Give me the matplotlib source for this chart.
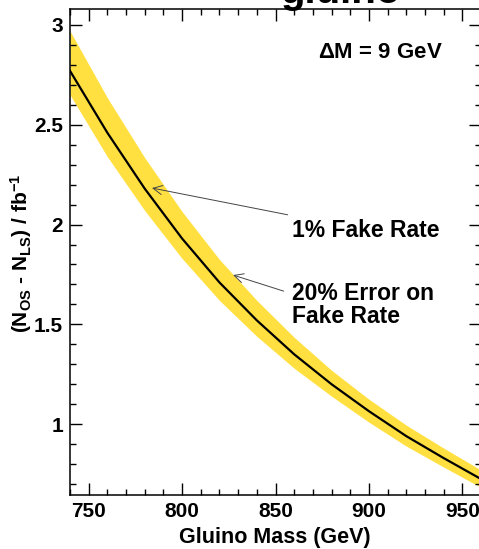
import numpy as np
import matplotlib
matplotlib.use('Agg')
import matplotlib.pyplot as plt
from matplotlib.ticker import FixedLocator, MultipleLocator

plt.rcParams['font.family'] = ['Liberation Sans', 'DejaVu Sans']
plt.rcParams['font.weight'] = 'bold'
plt.rcParams['mathtext.fontset'] = 'custom'
plt.rcParams['mathtext.rm'] = 'Liberation Sans:bold'
plt.rcParams['mathtext.bf'] = 'Liberation Sans:bold'
plt.rcParams['mathtext.it'] = 'Liberation Sans:bold'
plt.rcParams['mathtext.default'] = 'bf'

# gluino mass (GeV) og (N_OS - N_LS) / fb^-1
mass = [740, 760, 780, 800, 820, 840, 860, 880, 900, 920, 940, 960]
n_diff = [2.77, 2.46, 2.18, 1.93, 1.71, 1.52, 1.35, 1.20, 1.065, 0.94, 0.83, 0.725]
band_hi = [2.97, 2.635, 2.335, 2.065, 1.825, 1.62, 1.435, 1.27, 1.125, 0.995, 0.88, 0.77]
band_lo = [2.65, 2.34, 2.07, 1.83, 1.62, 1.44, 1.28, 1.14, 1.01, 0.89, 0.785, 0.683]

y_ticks = [1, 1.5, 2, 2.5, 3]
y_tick_labels = ['1', '1.5', '2', '2.5', '3']
x_ticks = [750, 800, 850, 900, 950]

fig = plt.figure(figsize=(4.79, 5.49), dpi=100)
ax = fig.add_axes([70 / 479, 1 - 495 / 549, 411 / 479, 486 / 549])

ax.fill_between(mass, band_lo, band_hi, color='#FFE040', lw=0)
ax.plot(mass, n_diff, color='black', lw=1.6)

ax.set_xlim(740, 960)
ax.set_ylim(0.645, 3.08)

ax.xaxis.set_major_locator(FixedLocator(x_ticks))
ax.xaxis.set_minor_locator(MultipleLocator(10))
ax.yaxis.set_major_locator(FixedLocator(y_ticks))
ax.set_yticklabels(y_tick_labels)
ax.yaxis.set_minor_locator(MultipleLocator(0.1))

ax.tick_params(which='both', direction='in', top=True, right=True, width=1.0, labelsize=15, pad=5)
ax.tick_params(which='major', length=8.5)
ax.tick_params(which='minor', length=4.5)
for s in ax.spines.values():
    s.set_linewidth(1.1)

# tekster og piler
ax.annotate('1% Fake Rate', xy=(783.9, 2.183), xytext=(858.7, 1.972),
            fontsize=16.5, fontweight='bold', va='center', ha='left',
            arrowprops=dict(arrowstyle='->', color='#444444', lw=0.7,
                            shrinkA=4, shrinkB=0))
ax.annotate('20% Error on\nFake Rate', xy=(827.3, 1.747), xytext=(858.7, 1.596),
            fontsize=16.5, fontweight='bold', va='center', ha='left', linespacing=1.0,
            arrowprops=dict(arrowstyle='->', color='#444444', lw=0.7,
                            shrinkA=4, shrinkB=0, relpos=(0, 0.75)))
ax.text(872.8, 2.864, '$\\Delta$M = 9 GeV', fontsize=16, fontweight='bold', va='center', ha='left')

fig.text(341 / 479, 1 - 3 / 549, 'gluino', fontsize=29, fontweight='bold', ha='center', va='baseline')
fig.text(275 / 479, 1 - 537 / 549, 'Gluino Mass (GeV)', fontsize=15.5, fontweight='bold', ha='center', va='center')
fig.text(21 / 479, 1 - 253 / 549, r'(N$_{OS}$ - N$_{LS}$) / fb$^{-1}$', fontsize=15, fontweight='bold',
         ha='center', va='center', rotation=90)

fig.savefig('out.png', dpi=100)
